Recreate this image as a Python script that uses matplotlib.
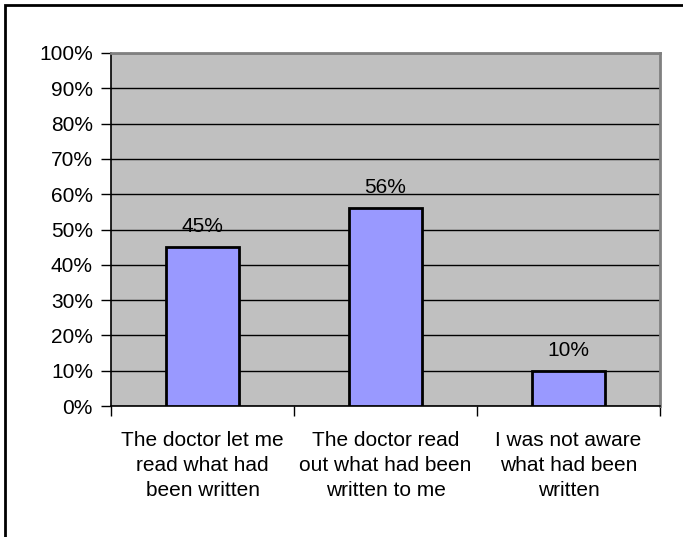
import matplotlib
matplotlib.use("Agg")
import matplotlib.pyplot as plt
from matplotlib.patches import Rectangle
from matplotlib.ticker import FixedLocator

categories = [
    "The doctor let me\nread what had\nbeen written",
    "The doctor read\nout what had been\nwritten to me",
    "I was not aware\nwhat had been\nwritten",
]
values = [45, 56, 10]
y_ticks = list(range(0, 101, 10))

plt.rcParams['font.family'] = ['Liberation Sans', 'DejaVu Sans']
FS = 15

fig = plt.figure(figsize=(6.83, 5.37), dpi=100)
ax = fig.add_axes([111 / 683, 1 - 406 / 537, 549 / 683, 353 / 537])
ax.set_facecolor('#C0C0C0')

x = list(range(len(values)))
ax.bar(x, values, width=0.4, color='#9999FF', edgecolor='black', linewidth=2, zorder=3)

for xi, v in zip(x, values):
    ax.text(xi, v + 4.3, f"{v}%", ha='center', va='baseline', fontsize=FS)

ax.set_xlim(-0.5, 2.5)
ax.set_ylim(0, 100)
ax.set_yticks(y_ticks)
ax.set_yticklabels([f"{t}%" for t in y_ticks], fontsize=FS)
ax.yaxis.grid(True, color='black', linewidth=1.0, zorder=1)
ax.set_axisbelow(True)

ax.set_xticks(x)
ax.set_xticklabels(categories, fontsize=FS, linespacing=1.39)
ax.xaxis.set_minor_locator(FixedLocator([-0.5, 0.5, 1.5, 2.5]))
ax.tick_params(axis='x', which='major', length=0, pad=18)
ax.tick_params(axis='x', which='minor', length=7, width=1, color='black')
ax.tick_params(axis='y', length=7, width=1, color='black', pad=6)

for side in ['top', 'right']:
    ax.spines[side].set_color('#808080')
    ax.spines[side].set_linewidth(2)
for side in ['left', 'bottom']:
    ax.spines[side].set_color('black')
    ax.spines[side].set_linewidth(1.2)

# outer chart border (right and bottom edges fall outside the image)
fig.patches.append(Rectangle((5 / 683, -0.05), 1.1, 1.05 - 5 / 537,
                             transform=fig.transFigure, fill=False,
                             edgecolor='black', linewidth=2))

fig.savefig('out.png', dpi=100)
